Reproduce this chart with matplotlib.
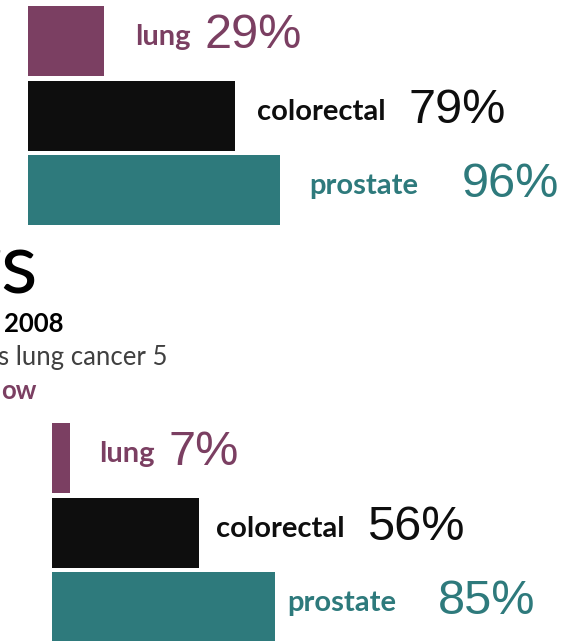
import matplotlib
matplotlib.use("Agg")
import matplotlib.pyplot as plt

# Five-year relative survival (%) by cancer site, two periods
sites = ["lung", "colorectal", "prostate"]
survival_recent = [29, 79, 96]
survival_later = [7, 56, 85]

site_colors = ["#7B3F62", "#0E0E0E", "#2E7A7C"]

W, H = 561, 641
DPI = 100
PX_PER_PCT = 2.62
ROW_PX = 74.5
XMAX = 200

fig = plt.figure(figsize=(W / DPI, H / DPI), dpi=DPI)


def px_axes(left_px, top_px):
    width_px = XMAX * PX_PER_PCT
    height_px = 3 * ROW_PX
    return fig.add_axes([left_px / W, 1 - (top_px + height_px) / H,
                         width_px / W, height_px / H])


def pt(px):
    return px * 72 / DPI


def draw_panel(ax, values, label_gaps, pct_gaps):
    ys = list(range(len(sites)))
    ax.barh(ys, values, height=70 / ROW_PX, color=site_colors, left=0)
    ax.set_xlim(0, XMAX)
    ax.set_ylim(len(sites) - 0.5, -0.5)
    ax.axis("off")
    for y, name, v, c, g1, g2 in zip(ys, sites, values, site_colors,
                                     label_gaps, pct_gaps):
        lab = ax.annotate(name, xy=(v, y), xytext=(pt(g1), -pt(4)),
                          textcoords="offset points", ha="left",
                          va="baseline", color=c, fontsize=21,
                          fontweight="bold", family="Lato",
                          annotation_clip=False)
        ax.annotate(f"{v}%", xy=(1, y), xycoords=(lab, ax.transData),
                    xytext=(pt(g2), -pt(7)), textcoords="offset points",
                    ha="left", va="baseline", color=c, fontsize=35,
                    family="Liberation Sans", annotation_clip=False)


ax_top = px_axes(28, 3.75)
draw_panel(ax_top, survival_recent, [31, 22, 30], [14, 23, 43])

ax_bot = px_axes(52, 420.75)
draw_panel(ax_bot, survival_later, [29, 17, 13], [14, 23, 41])

# Heading fragments at the left edge
fig.text(37 / W, 1 - 294 / H, "rs", ha="right", va="baseline",
         fontsize=61, family="Lato", color="black")
fig.text(64 / W, 1 - 332 / H, "2008", ha="right", va="baseline",
         fontsize=18.5, fontweight="bold", family="Lato", color="black")
fig.text(168 / W, 1 - 365 / H, "s lung cancer 5", ha="right", va="baseline",
         fontsize=18.5, family="Lato", color="#404040")
fig.text(37 / W, 1 - 399 / H, "ow", ha="right", va="baseline",
         fontsize=18.5, fontweight="bold", family="Lato", color="#7B3F62")

fig.savefig("out.png", dpi=DPI)
